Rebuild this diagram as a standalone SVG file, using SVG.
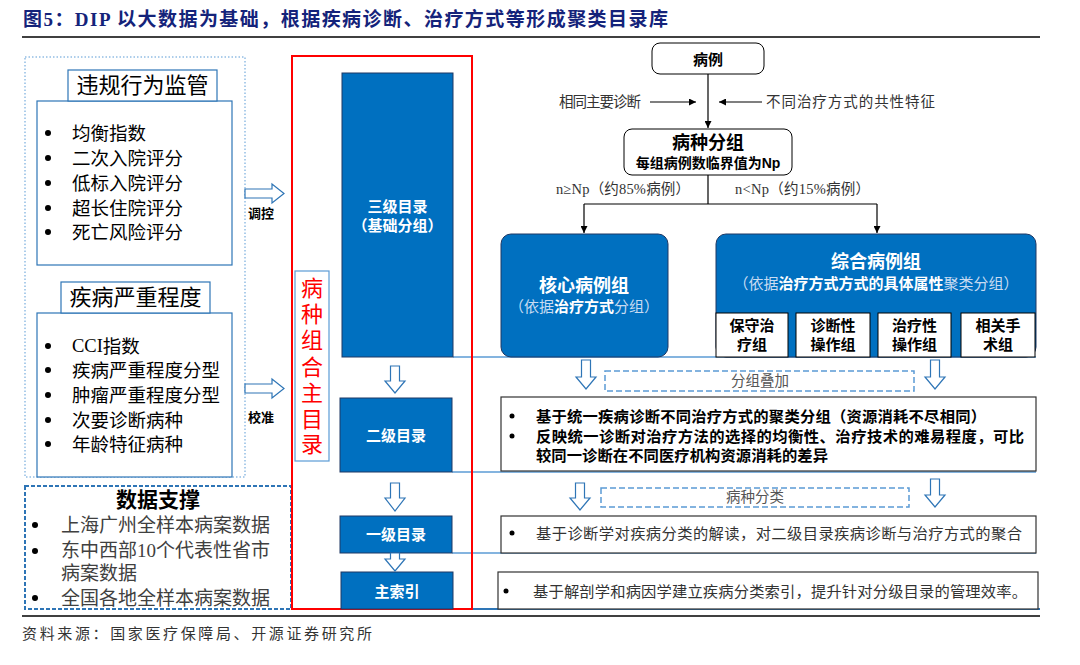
<svg xmlns="http://www.w3.org/2000/svg" width="1080" height="665" viewBox="0 0 1080 665">
<style>
text{font-family:'Liberation Sans','Noto Sans CJK SC',sans-serif;dominant-baseline:central}
.serif{font-family:'Liberation Serif','Noto Sans CJK SC',serif}
.hd{font-size:22px;fill:#000;text-anchor:middle}
.li{font-size:18.5px;fill:#000}
.ds{font-size:19px;fill:#404040}
.wb{font-size:15px;fill:#fff;font-weight:bold;text-anchor:middle}
.blk{fill:#0070C0;stroke:#1F3864;stroke-width:1}
.frame{fill:#fff;stroke:#2E75B6;stroke-width:1.2}
.hol{fill:#fff;stroke:#2E75B6;stroke-width:1.2}
.sep{stroke:#5B9BD5;stroke-width:1.5;fill:none}
.con{stroke:#000;stroke-width:1.2;fill:none}
.rb{fill:#fff;stroke:#000;stroke-width:1}
.sm{font-size:14.5px;fill:#333}
.tb{fill:#fff;stroke:#333;stroke-width:1.2}
.bt{font-size:15.3px;fill:#000;font-weight:bold}
.rt{font-size:15.3px;fill:#333}
.sub{font-size:15px;fill:#000;font-weight:bold;text-anchor:middle}
.dash{fill:none;stroke:#5B9BD5;stroke-width:1.5;stroke-dasharray:6,3}
</style>
<defs>
<marker id="ah" viewBox="0 0 10 10" refX="10" refY="5" markerWidth="7" markerHeight="7" orient="auto" markerUnits="userSpaceOnUse">
<path d="M0,0 L10,5 L0,10 Z" fill="#000"/>
</marker>
</defs>
<rect width="1080" height="665" fill="#fff"/>

<g id="title">
<text x="23" y="19" class="serif" font-size="19" font-weight="bold" fill="#14237A" textLength="645" lengthAdjust="spacing">图5：DIP 以大数据为基础，根据疾病诊断、治疗方式等形成聚类目录库</text>
<line x1="22" y1="37" x2="1040" y2="37" stroke="#000" stroke-width="1.5"/>
</g>

<g id="separators">
<line class="sep" x1="453" y1="357" x2="1036" y2="357"/>
<line class="sep" x1="452" y1="472" x2="1036" y2="472"/>
<line class="sep" x1="452" y1="553" x2="1036" y2="553"/>
<line x1="340" y1="609" x2="1040" y2="609" stroke="#2E75B6" stroke-width="2"/>
</g>

<g id="left-panel">
<rect x="25" y="57" width="220" height="420" fill="none" stroke="#5B9BD5" stroke-width="1" stroke-dasharray="1.5,2"/>
</g>

<g id="supervision">
<rect class="frame" x="37" y="101" width="195" height="164"/>
<rect class="frame" x="68" y="70" width="149" height="31"/>
<text class="hd" x="142.5" y="85">违规行为监管</text>
<g fill="#000"><circle cx="48" cy="133" r="3"/><circle cx="48" cy="158" r="3"/><circle cx="48" cy="183" r="3"/><circle cx="48" cy="208" r="3"/><circle cx="48" cy="232" r="3"/></g>
<text class="li" x="72" y="133">均衡指数</text>
<text class="li" x="72" y="158">二次入院评分</text>
<text class="li" x="72" y="183">低标入院评分</text>
<text class="li" x="72" y="208">超长住院评分</text>
<text class="li" x="72" y="232">死亡风险评分</text>
</g>

<g id="severity">
<rect class="frame" x="37" y="313" width="195" height="164"/>
<rect class="frame" x="61" y="282" width="149" height="31"/>
<text class="hd" x="135.5" y="297">疾病严重程度</text>
<g fill="#000"><circle cx="48" cy="346" r="3"/><circle cx="48" cy="370" r="3"/><circle cx="48" cy="395" r="3"/><circle cx="48" cy="420" r="3"/><circle cx="48" cy="444" r="3"/></g>
<text class="li" x="72" y="346"><tspan class="serif">CCI</tspan>指数</text>
<text class="li" x="72" y="370">疾病严重程度分型</text>
<text class="li" x="72" y="395">肿瘤严重程度分型</text>
<text class="li" x="72" y="420">次要诊断病种</text>
<text class="li" x="72" y="444">年龄特征病种</text>
</g>

<g id="arrow-regulate">
<path class="hol" d="M245,189 H272 V184 L284,193.5 L272,203 V198 H245 Z"/>
<text x="248" y="213" font-size="13" font-weight="bold" fill="#000">调控</text>
</g>
<g id="arrow-calibrate">
<path class="hol" d="M245,384 H272 V379 L284,388.5 L272,398 V393 H245 Z"/>
<text x="248" y="417" font-size="13" font-weight="bold" fill="#000">校准</text>
</g>

<g id="data-support">
<rect x="25" y="486" width="266" height="123" fill="none" stroke="#2E75B6" stroke-width="2" stroke-dasharray="4,2"/>
<text x="158" y="499" font-size="21" font-weight="bold" fill="#000" text-anchor="middle">数据支撑</text>
<g fill="#000"><circle cx="35" cy="525" r="3"/><circle cx="35" cy="551" r="3"/><circle cx="35" cy="598" r="3"/></g>
<text class="ds serif" x="61" y="525">上海广州全样本病案数据</text>
<text class="ds serif" x="61" y="550">东中西部10个代表性省市</text>
<text class="ds serif" x="61" y="573">病案数据</text>
<text class="ds serif" x="61" y="598">全国各地全样本病案数据</text>
</g>

<g id="main-catalog">
<rect x="292" y="56" width="180" height="553" fill="none" stroke="#FF0000" stroke-width="2"/>
<rect x="295" y="271" width="34" height="190" fill="#fff" stroke="#5B9BD5" stroke-width="1.2"/>
<g font-size="22" fill="#FF0000" text-anchor="middle">
<text x="312" y="288">病</text><text x="312" y="314">种</text><text x="312" y="340">组</text><text x="312" y="367">合</text><text x="312" y="393">主</text><text x="312" y="419">目</text><text x="312" y="444">录</text>
</g>
</g>

<g id="level3">
<rect class="blk" x="342" y="73" width="111" height="284"/>
<text class="wb" x="397.5" y="206">三级目录</text>
<text class="wb" x="397.5" y="225">（基础分组）</text>
</g>
<g id="level2">
<rect class="blk" x="340" y="398" width="112" height="74"/>
<text class="wb" x="396" y="435">二级目录</text>
</g>
<g id="level1">
<rect class="blk" x="340" y="516" width="112" height="37"/>
<text class="wb" x="396" y="534">一级目录</text>
</g>
<g id="main-index">
<rect class="blk" x="341" y="572" width="112" height="37"/>
<text class="wb" x="397" y="591">主索引</text>
</g>

<g id="mid-arrows">
<path class="hol" d="M390.5,366 H399.5 V381 H405 L395,393 L385,381 H390.5 Z"/>
<path class="hol" d="M390.5,483 H399.5 V498 H405 L395,511 L385,498 H390.5 Z"/>
<path class="hol" d="M390.5,553 H399.5 V559 H405 L395,571 L385,559 H390.5 Z"/>
</g>

<g id="case">
<rect class="rb" x="652" y="43" width="112" height="31" rx="8"/>
<text x="708" y="59" font-size="15" font-weight="bold" text-anchor="middle" fill="#000">病例</text>
</g>
<g id="group">
<rect class="rb" x="624" y="129" width="168" height="46" rx="8"/>
<text x="708" y="143" font-size="18" font-weight="bold" text-anchor="middle" fill="#000">病种分组</text>
<text x="708" y="163" font-size="14" font-weight="bold" text-anchor="middle" fill="#000">每组病例数临界值为Np</text>
</g>

<g id="connectors">
<path class="con" d="M708,74 V128" marker-end="url(#ah)"/>
<path class="con" d="M650,102 H696" marker-end="url(#ah)"/>
<path class="con" d="M762,102 H719" marker-end="url(#ah)"/>
<path class="con" d="M708,175 V204 M584,204 H877"/>
<path class="con" d="M584,204 V233" marker-end="url(#ah)"/>
<path class="con" d="M877,204 V233" marker-end="url(#ah)"/>
</g>
<g id="connector-labels">
<text class="sm" x="559" y="102" textLength="82" lengthAdjust="spacing">相同主要诊断</text>
<text class="sm" x="766" y="102" textLength="169" lengthAdjust="spacing">不同治疗方式的共性特征</text>
<text class="sm serif" x="556" y="189" textLength="134" lengthAdjust="spacing">n≥Np（约85%病例）</text>
<text class="sm serif" x="735" y="189" textLength="135" lengthAdjust="spacing">n&lt;Np（约15%病例）</text>
</g>

<g id="core-group">
<rect class="blk" x="501" y="234" width="167" height="123" rx="10"/>
<text x="584" y="286" font-size="18" font-weight="bold" fill="#fff" text-anchor="middle">核心病例组</text>
<text x="584" y="306" font-size="15" fill="#C9DCF2" text-anchor="middle">（依据<tspan font-weight="bold" fill="#fff">治疗方式</tspan>分组）</text>
</g>

<g id="comp-group">
<rect class="blk" x="716" y="234" width="320" height="123" rx="10"/>
<text x="876" y="262" font-size="18" font-weight="bold" fill="#fff" text-anchor="middle">综合病例组</text>
<text x="876" y="283" font-size="15" fill="#C9DCF2" text-anchor="middle">（依据<tspan font-weight="bold" fill="#fff">治疗方式方式的具体属性</tspan>聚类分组）</text>
</g>
<g id="sub-conservative">
<rect class="rb" x="716" y="313" width="72" height="44"/>
<text class="sub" x="752" y="325">保守治</text><text class="sub" x="752" y="344">疗组</text>
</g>
<g id="sub-diagnostic">
<rect class="rb" x="796" y="313" width="74" height="44"/>
<text class="sub" x="833" y="325">诊断性</text><text class="sub" x="833" y="344">操作组</text>
</g>
<g id="sub-therapeutic">
<rect class="rb" x="878" y="313" width="73" height="44"/>
<text class="sub" x="914.5" y="325">治疗性</text><text class="sub" x="914.5" y="344">操作组</text>
</g>
<g id="sub-surgery">
<rect class="rb" x="961" y="313" width="74" height="44"/>
<text class="sub" x="998" y="325">相关手</text><text class="sub" x="998" y="344">术组</text>
</g>

<g id="overlay">
<path class="hol" d="M581.5,360 H590.5 V377 H596 L586,389 L576,377 H581.5 Z"/>
<path class="hol" d="M930.5,360 H939.5 V377 H945 L935,389 L925,377 H930.5 Z"/>
<rect class="dash" x="605" y="371" width="309" height="20"/>
<text x="760" y="381" font-size="14.5" fill="#555" text-anchor="middle">分组叠加</text>
</g>

<g id="desc-level2">
<rect class="tb" x="501" y="397" width="535" height="74"/>
<g fill="#000"><circle cx="512" cy="416" r="2.5"/><circle cx="512" cy="436" r="2.5"/></g>
<text class="bt" x="536" y="416" textLength="450" lengthAdjust="spacing">基于统一疾病诊断不同治疗方式的聚类分组（资源消耗不尽相同）</text>
<text class="bt" x="536" y="436" textLength="488" lengthAdjust="spacing">反映统一诊断对治疗方法的选择的均衡性、治疗技术的难易程度，可比</text>
<text class="bt" x="536" y="455" textLength="292" lengthAdjust="spacing">较同一诊断在不同医疗机构资源消耗的差异</text>
</g>

<g id="classify">
<path class="hol" d="M575.5,483 H584.5 V498 H590 L580,510 L570,498 H575.5 Z"/>
<path class="hol" d="M930.5,479 H939.5 V495 H945 L935,507 L925,495 H930.5 Z"/>
<rect class="dash" x="601" y="488" width="308" height="19"/>
<text x="755" y="497" font-size="14.5" fill="#555" text-anchor="middle">病种分类</text>
</g>

<g id="desc-level1">
<rect class="tb" x="501" y="516" width="535" height="37"/>
<circle cx="512" cy="533" r="2.5" fill="#000"/>
<text class="rt" x="536" y="533" textLength="486" lengthAdjust="spacing">基于诊断学对疾病分类的解读，对二级目录疾病诊断与治疗方式的聚合</text>
</g>

<g id="desc-index">
<rect class="tb" x="498" y="572" width="540" height="37"/>
<circle cx="506" cy="591" r="2.5" fill="#000"/>
<text class="rt" x="533" y="591" textLength="494" lengthAdjust="spacing">基于解剖学和病因学建立疾病分类索引，提升针对分级目录的管理效率。</text>
</g>

<g id="footer">
<line x1="22" y1="616" x2="1040" y2="616" stroke="#000" stroke-width="1.5"/>
<text x="22" y="633" font-size="15" fill="#333" textLength="350" lengthAdjust="spacing">资料来源：国家医疗保障局、开源证券研究所</text>
</g>
</svg>
